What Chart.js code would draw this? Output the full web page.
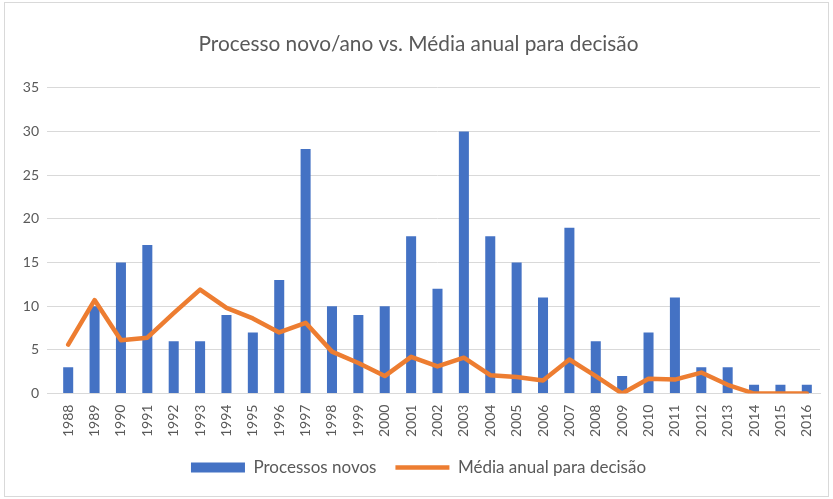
<!DOCTYPE html>
<html>
<head>
<meta charset="utf-8">
<script src="https://cdn.jsdelivr.net/npm/chart.js@4/dist/chart.umd.min.js"></script>
<style>
  body { margin: 0; background: #fff; }
  #wrap { position: absolute; left: 4px; top: 2px; width: 823px; height: 493px; border: 1px solid #d9d9d9; }
</style>
</head>
<body>
<div id="wrap"><canvas id="chart__figure" width="823" height="493"></canvas></div>
<script>
/**************************************************************
              PROCESSOS NOVOS vs MEDIA ANUAL
***************************************************************/
let years = ["1988", "1989", "1990", "1991", "1992", "1993", "1994", "1995", "1996", "1997",
             "1998", "1999", "2000", "2001", "2002", "2003", "2004", "2005", "2006", "2007",
             "2008", "2009", "2010", "2011", "2012", "2013", "2014", "2015", "2016"]
let processosNovos = [3, 10, 15, 17, 6, 6, 9, 7, 13, 28, 10, 9, 10, 18, 12, 30, 18, 15, 11, 19, 6, 2, 7, 11, 3, 3, 1, 1, 1]
let mediaAnual = [5.6, 10.7, 6.1, 6.4, 9.2, 11.9, 9.8, 8.6, 7.0, 8.1, 4.8, 3.5, 2.0, 4.2, 3.1, 4.1, 2.1, 1.9, 1.5, 3.9, 2.0, 0, 1.7, 1.6, 2.4, 1.0, 0, 0, 0]
let yTicks = [0, 5, 10, 15, 20, 25, 30, 35]

let fontFamily = "Lato, 'Open Sans', sans-serif"
let textColor = '#595959'

let chartCanvas = document.getElementById("chart__figure").getContext('2d');
let chartConfig = {
    type: 'bar',
    data: {
        labels: years,
        datasets: [{
            label: 'Processos novos',
            data: processosNovos,
            backgroundColor: '#4472C4',
            barPercentage: 0.38,
            categoryPercentage: 1,
            order: 1
        }, {
            type: 'line',
            label: 'Média anual para decisão',
            data: mediaAnual,
            borderColor: '#ED7D31',
            backgroundColor: '#ED7D31',
            borderWidth: 4.5,
            borderCapStyle: 'round',
            borderJoinStyle: 'round',
            pointRadius: 0,
            tension: 0,
            order: 0
        }]
    },
    options: {
        responsive: false,
        animation: false,
        layout: { padding: { left: 12, right: 8, top: 0, bottom: 10 } },
        scales: {
            x: {
                grid: { display: false },
                border: { color: '#d9d9d9' },
                ticks: { color: textColor, font: { family: fontFamily, size: 14 }, minRotation: 90, maxRotation: 90, autoSkip: false }
            },
            y: {
                min: 0,
                max: 35,
                afterBuildTicks: (axis) => { axis.ticks = yTicks.map(v => ({ value: v })) },
                afterFit: (axis) => { axis.width = 38 },
                grid: { color: '#d9d9d9', lineWidth: 1 },
                border: { display: false },
                ticks: { color: textColor, font: { family: fontFamily, size: 14 }, padding: 8 }
            }
        },
        plugins: {
            title: {
                display: true,
                text: 'Processo novo/ano vs. Média anual para decisão',
                color: textColor,
                font: { family: fontFamily, size: 20.8, weight: 'normal' },
                padding: { top: 29, bottom: 31 }
            },
            legend: {
                position: 'bottom',
                labels: {
                    color: textColor,
                    font: { family: fontFamily, size: 17 },
                    usePointStyle: true,
                    pointStyleWidth: 54,
                    boxHeight: 10,
                    padding: 19,
                    generateLabels: (chart) => {
                        let items = Chart.defaults.plugins.legend.labels.generateLabels(chart)
                        items.forEach(item => { item.pointStyle = item.datasetIndex === 0 ? 'rect' : 'line' })
                        return items
                    },
                    sort: (a, b) => a.datasetIndex - b.datasetIndex
                }
            },
            tooltip: { enabled: false }
        }
    }
}

/*** Create chart ***/
let processosChart = new Chart(chartCanvas, chartConfig);
</script>
</body>
</html>
